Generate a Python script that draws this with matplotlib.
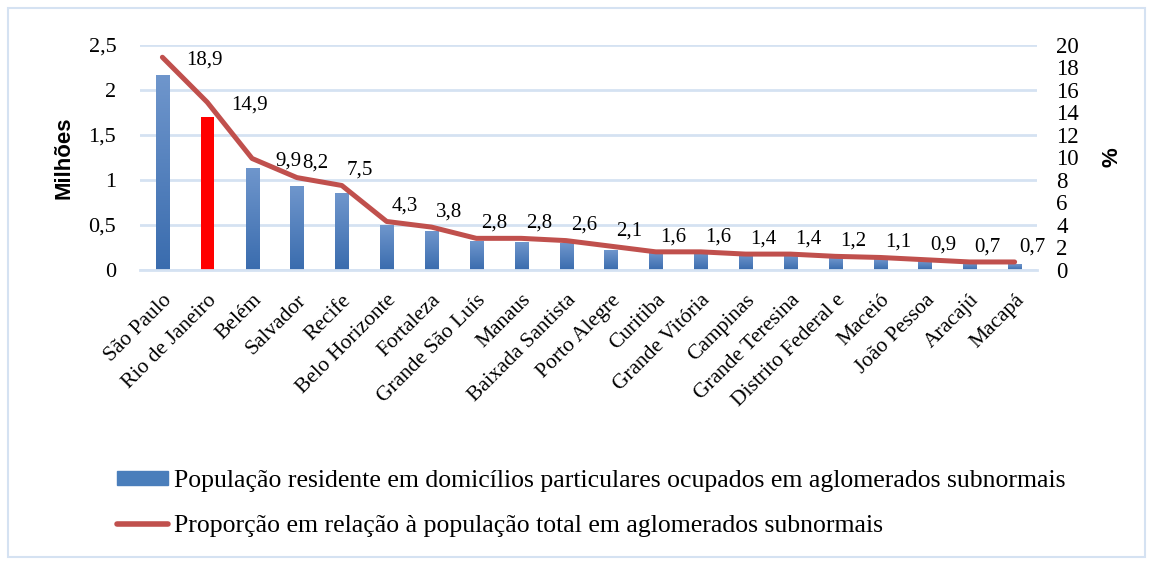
import matplotlib.pyplot as plt
import numpy as np
from matplotlib.patches import Rectangle
from matplotlib.lines import Line2D
from matplotlib.colors import LinearSegmentedColormap

# dados: aglomerados subnormais (Censo 2010)
regioes = ["São Paulo", "Rio de Janeiro", "Belém", "Salvador", "Recife",
           "Belo Horizonte", "Fortaleza", "Grande São Luís", "Manaus",
           "Baixada Santista", "Porto Alegre", "Curitiba", "Grande Vitória",
           "Campinas", "Grande Teresina", "Distrito Federal e", "Maceió",
           "João Pessoa", "Aracajú", "Macapá"]
populacao = [2.16, 1.70, 1.13, 0.93, 0.85, 0.49, 0.43, 0.32, 0.31, 0.30,
             0.22, 0.20, 0.19, 0.17, 0.16, 0.13, 0.12, 0.09, 0.07, 0.06]
proporcao = [18.9, 14.9, 9.9, 8.2, 7.5, 4.3, 3.8, 2.8, 2.8, 2.6,
             2.1, 1.6, 1.6, 1.4, 1.4, 1.2, 1.1, 0.9, 0.7, 0.7]
rotulos = ["18,9", "14,9", "9,9", "8,2", "7,5", "4,3", "3,8", "2,8", "2,8", "2,6",
           "2,1", "1,6", "1,6", "1,4", "1,4", "1,2", "1,1", "0,9", "0,7", "0,7"]
yticks_esq = ["0", "0,5", "1", "1,5", "2", "2,5"]

serif = "Liberation Serif"
azul = "#4a7ebb"
vermelho = "#c0504d"
grade = "#d5e2f2"
degrade = LinearSegmentedColormap.from_list("az", ["#3a6cae", "#6f96cc"])

fig = plt.figure(figsize=(11.51, 5.61), dpi=100)
fig.patches.append(Rectangle((0.007, 0.008), 0.988, 0.978, transform=fig.transFigure,
                             fill=False, edgecolor=grade, linewidth=1.5))
ax = fig.add_axes([0.1216, 0.519, 0.7794, 0.401])
x = np.arange(len(regioes))
larg = 0.29
grad = np.linspace(0, 1, 100).reshape(-1, 1)
for i, v in enumerate(populacao):
    if i == 1:
        ax.bar(x[i], v, width=larg, color="#ff0000", zorder=2)
    else:
        ax.imshow(grad, extent=(x[i] - larg / 2, x[i] + larg / 2, 0, v), origin="lower",
                  aspect="auto", cmap=degrade, zorder=2)
ax.set_xlim(-0.5, len(regioes) - 0.5)
ax.set_ylim(0, 2.5)
ax.set_yticks(np.arange(0, 2.51, 0.5))
ax.set_yticklabels(yticks_esq, fontsize=16, family=serif)
ax.yaxis.grid(True, color=grade, linewidth=2, zorder=0)
ax.set_axisbelow(True)
for s in ax.spines.values():
    s.set_visible(False)
ax.spines["bottom"].set_visible(True)
ax.spines["bottom"].set_color(grade)
ax.spines["bottom"].set_linewidth(2)
ax.tick_params(axis="y", length=0, pad=17)
ax.tick_params(axis="x", length=0, pad=15)
ax.set_xticks(x)
ax.set_xticklabels(regioes, rotation=45, ha="right", rotation_mode="anchor",
                   fontsize=15.5, family=serif)
ax.set_ylabel("Milhões", fontsize=16, fontweight="bold", family="Liberation Sans",
              labelpad=10)

ax2 = ax.twinx()
ax2.plot(x, proporcao, color=vermelho, linewidth=3.6, zorder=3, solid_capstyle="round")
ax2.set_ylim(0, 20)
ax2.set_yticks(np.arange(0, 21, 2))
ax2.set_yticklabels([str(v) for v in range(0, 21, 2)], fontsize=16.5, family=serif)
ax2.tick_params(length=0, pad=14)
for s in ax2.spines.values():
    s.set_visible(False)
ax2.set_ylabel("%", fontsize=16, fontweight="bold", family="Liberation Sans",
               labelpad=16)

for i, (v, t) in enumerate(zip(proporcao, rotulos)):
    if i < 3:
        ax2.annotate(t, (x[i], v), xytext=(17, -2), textcoords="offset points",
                     ha="left", va="center", fontsize=15, family=serif)
    else:
        ax2.annotate(t, (x[i], v), xytext=(3.5, 4), textcoords="offset points",
                     ha="left", va="bottom", fontsize=15, family=serif)

# legenda
handles = [Rectangle((0, 0), 1, 1, color=azul),
           Line2D([0], [0], color=vermelho, linewidth=4, solid_capstyle="round")]
nomes = ["População residente em domicílios particulares ocupados em aglomerados subnormais",
         "Proporção em relação à população total em aglomerados subnormais"]
fig.legend(handles, nomes, loc="center left", bbox_to_anchor=(0.1017, 0.102),
           frameon=False, prop={"family": serif, "size": 18.5}, handlelength=2.0,
           handleheight=0.45, handletextpad=0.2, labelspacing=0.9,
           borderpad=0, borderaxespad=0)

fig.savefig("out.png", dpi=100)
